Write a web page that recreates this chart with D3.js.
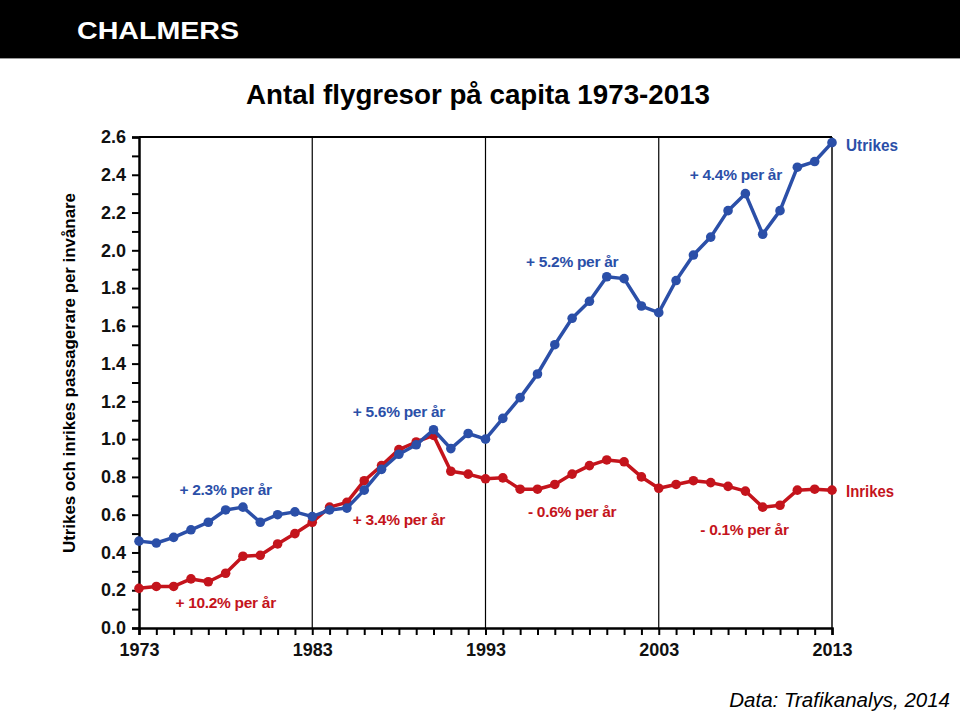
<!DOCTYPE html>
<html><head><meta charset="utf-8">
<script src="https://cdn.jsdelivr.net/npm/d3@7"></script>
<style>body{margin:0;background:#fff}svg{display:block}</style>
</head><body>
<script>
const years = d3.range(1973, 2014);
const utrikes = [0.46,0.45,0.48,0.52,0.56,0.625,0.64,0.56,0.60,0.615,0.59,0.625,0.635,0.73,0.84,0.92,0.97,1.05,0.95,1.03,1.00,1.11,1.22,1.345,1.50,1.64,1.73,1.86,1.85,1.705,1.67,1.84,1.975,2.07,2.21,2.30,2.085,2.21,2.44,2.47,2.57];
const inrikes = [0.21,0.22,0.22,0.26,0.245,0.29,0.38,0.385,0.445,0.50,0.56,0.64,0.665,0.78,0.86,0.945,0.985,1.02,0.83,0.815,0.79,0.795,0.735,0.735,0.76,0.815,0.86,0.89,0.88,0.80,0.74,0.76,0.78,0.77,0.75,0.725,0.64,0.65,0.73,0.735,0.73];
const yTicks = [0,0.2,0.4,0.6,0.8,1.0,1.2,1.4,1.6,1.8,2.0,2.2,2.4,2.6];
const xLabels = [1973,1983,1993,2003,2013];
const annotations = [
  {text:"+ 2.3% per år", year:1978, v:0.705, s:"u"},
  {text:"+ 10.2% per år", year:1978, v:0.107, s:"i"},
  {text:"+ 5.6% per år", year:1988, v:1.117, s:"u"},
  {text:"+ 3.4% per år", year:1988, v:0.545, s:"i"},
  {text:"+ 5.2% per år", year:1998, v:1.91, s:"u"},
  {text:"- 0.6% per år", year:1998, v:0.588, s:"i"},
  {text:"+ 4.4% per år", year:2007.45, v:2.37, s:"u"},
  {text:"- 0.1% per år", year:2007.95, v:0.49, s:"i"}
];
const BLUE = "#2b4fa8", RED = "#c4141c";

const W = 960, H = 715;
const svg = d3.select("body").append("svg").attr("width", W).attr("height", H)
  .style("font-family", "'Liberation Sans', Arial, sans-serif");

// header
svg.append("rect").attr("x",0).attr("y",0).attr("width",W).attr("height",58).attr("fill","#000");
svg.append("line").attr("x1",0).attr("x2",W).attr("y1",58.5).attr("y2",58.5).attr("stroke","#999").attr("stroke-width",1);
svg.append("text").attr("x",77).attr("y",39).attr("fill","#fff").attr("font-weight","bold")
  .attr("font-size",23).attr("textLength",162).attr("lengthAdjust","spacingAndGlyphs").text("CHALMERS");
svg.append("text").attr("x",246).attr("y",104).attr("font-weight","bold").attr("font-size",27)
  .attr("textLength",464).attr("lengthAdjust","spacingAndGlyphs").text("Antal flygresor på capita 1973-2013");

const x = d3.scaleLinear().domain([1973,2013]).range([139,832]);
const y = d3.scaleLinear().domain([0,2.6]).range([628,137]);

// vertical dividers
[1983,1993,2003].forEach(yr=>{
  svg.append("line").attr("x1",x(yr)).attr("x2",x(yr)).attr("y1",y(2.6)).attr("y2",y(0))
    .attr("stroke","#000").attr("stroke-width",1.2);
});
svg.append("line").attr("x1",x(2013)).attr("x2",x(2013)).attr("y1",y(2.6)).attr("y2",y(0))
  .attr("stroke","#444").attr("stroke-width",2);
svg.append("line").attr("x1",x(1973)).attr("x2",x(2013)).attr("y1",y(2.6)).attr("y2",y(2.6))
  .attr("stroke","#000").attr("stroke-width",2);

// y axis
const yAxis = d3.axisLeft(y).tickValues(d3.range(0,27).map(d=>d/10)).tickSize(7)
  .tickFormat(d=> yTicks.some(t=>Math.abs(t-d)<1e-9) ? d3.format(".1f")(d) : "");
const gy = svg.append("g").attr("transform",`translate(${x(1973)},0)`).call(yAxis);
gy.select(".domain").attr("stroke-width",2.5);
gy.selectAll(".tick line").attr("stroke-width",2);
gy.selectAll(".tick text").attr("font-size",18).attr("font-weight","bold").attr("fill","#111")
  .attr("font-family","'Liberation Sans', Arial, sans-serif").attr("x",-13);

// x axis
const xAxis = d3.axisBottom(x).tickValues(years).tickSize(7)
  .tickFormat(d=> xLabels.includes(d) ? d : "");
const gx = svg.append("g").attr("transform",`translate(0,${y(0)})`).call(xAxis);
gx.select(".domain").attr("stroke-width",2.5);
gx.selectAll(".tick line").attr("stroke-width",2);
gx.selectAll(".tick text").attr("font-size",18).attr("font-weight","bold").attr("fill","#111")
  .attr("font-family","'Liberation Sans', Arial, sans-serif").attr("dy","1.0em");

// y title
svg.append("text").attr("transform",`translate(75,${373}) rotate(-90)`).attr("text-anchor","middle")
  .attr("font-weight","bold").attr("font-size",17).attr("textLength",360).attr("lengthAdjust","spacingAndGlyphs")
  .text("Utrikes och inrikes passagerare per invånare");

// series
const line = d3.line().x((d,i)=>x(years[i])).y(d=>y(d));
[[inrikes,RED],[utrikes,BLUE]].forEach(([data,col])=>{
  svg.append("path").datum(data).attr("d",line).attr("fill","none").attr("stroke",col)
    .attr("stroke-width",3.5).attr("stroke-linejoin","round");
  svg.append("g").selectAll("circle").data(data).join("circle")
    .attr("cx",(d,i)=>x(years[i])).attr("cy",d=>y(d)).attr("r",4.8).attr("fill",col);
});

// annotations
svg.append("g").selectAll("text").data(annotations).join("text")
  .attr("x",d=>x(d.year)).attr("y",d=>y(d.v)).attr("text-anchor","middle")
  .attr("font-weight","bold").attr("font-size",15.5).attr("fill",d=>d.s==="u"?BLUE:RED)
  .attr("letter-spacing",-0.3).text(d=>d.text);

svg.append("text").attr("x",846).attr("y",151).attr("font-weight","bold").attr("font-size",17)
  .attr("textLength",52).attr("lengthAdjust","spacingAndGlyphs").attr("fill",BLUE).text("Utrikes");
svg.append("text").attr("x",846).attr("y",497).attr("font-weight","bold").attr("font-size",17)
  .attr("textLength",48).attr("lengthAdjust","spacingAndGlyphs").attr("fill",RED).text("Inrikes");

svg.append("text").attr("x",950).attr("y",707).attr("text-anchor","end").attr("font-style","italic")
  .attr("font-size",20.5).text("Data: Trafikanalys, 2014");
</script>
</body></html>
